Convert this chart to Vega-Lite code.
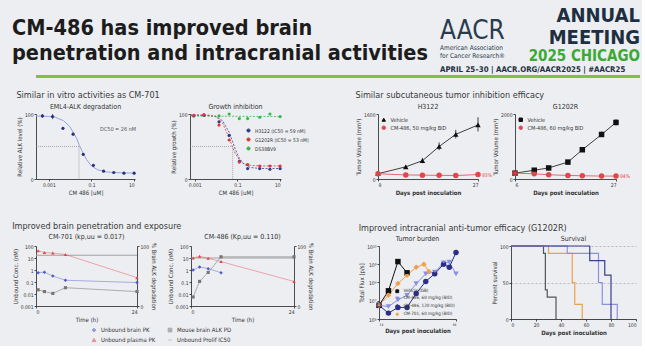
{
 "$schema": "https://vega.github.io/schema/vega-lite/v6.json",
 "background": "#eceef1",
 "padding": {"left": 12, "top": 6, "right": 2, "bottom": 2},
 "config": {
  "font": "Liberation Sans Narrow, DejaVu Sans Condensed, sans-serif",
  "view": {"stroke": null},
  "axis": {"labelFontSize": 5, "titleFontSize": 6, "tickSize": 2, "labelPadding": 1, "titlePadding": 2, "domainColor": "#222", "tickColor": "#222", "labelColor": "#333", "titleColor": "#333", "grid": false, "titleFontWeight": "normal", "domainWidth": 0.8, "tickWidth": 0.8},
  "title": {"fontSize": 7, "fontWeight": "normal", "color": "#333", "offset": 2},
  "legend": {"labelFontSize": 5, "symbolSize": 12, "rowPadding": 0, "padding": 0, "labelColor": "#333", "symbolStrokeWidth": 1, "labelLimit": 200, "titleFontSize": 5}
 },
 "datasets": {
  "a_pts": [
   {"x": 0.0005, "y": 97, "lo": 94, "hi": 100}, {"x": 0.0015, "y": 96, "lo": 92, "hi": 100}, {"x": 0.0046, "y": 78, "lo": 76, "hi": 80}, {"x": 0.0137, "y": 69, "lo": 67, "hi": 71}, {"x": 0.041, "y": 38, "lo": 36, "hi": 40}, {"x": 0.123, "y": 21, "lo": 20, "hi": 22}, {"x": 0.37, "y": 12, "lo": 11, "hi": 13}, {"x": 1.11, "y": 10, "lo": 9, "hi": 11}, {"x": 3.33, "y": 9, "lo": 8, "hi": 10}, {"x": 10, "y": 9, "lo": 8, "hi": 10}
  ],
  "a_fit": [
   {"x": 0.00025, "y": 97}, {"x": 0.001, "y": 96.3}, {"x": 0.002, "y": 95}, {"x": 0.005, "y": 89.5}, {"x": 0.01, "y": 80}, {"x": 0.02, "y": 62.5}, {"x": 0.026, "y": 53}, {"x": 0.04, "y": 40}, {"x": 0.06, "y": 29.5}, {"x": 0.1, "y": 20}, {"x": 0.2, "y": 14}, {"x": 0.5, "y": 11}, {"x": 1, "y": 10}, {"x": 11, "y": 9}
  ],
  "a_ref": [{"x": 0.00025, "y": 50, "o": 1}, {"x": 0.026, "y": 50, "o": 2}, {"x": 0.026, "y": 0, "o": 3}],
  "b_pts": [
   {"g": "H3122 (IC50 = 59 nM)", "x": 0.0009, "y": 97}, {"g": "H3122 (IC50 = 59 nM)", "x": 0.0027, "y": 98}, {"g": "H3122 (IC50 = 59 nM)", "x": 0.0137, "y": 88}, {"g": "H3122 (IC50 = 59 nM)", "x": 0.041, "y": 67}, {"g": "H3122 (IC50 = 59 nM)", "x": 0.123, "y": 27}, {"g": "H3122 (IC50 = 59 nM)", "x": 0.3, "y": 16}, {"g": "H3122 (IC50 = 59 nM)", "x": 1.11, "y": 16}, {"g": "H3122 (IC50 = 59 nM)", "x": 3.33, "y": 15}, {"g": "H3122 (IC50 = 59 nM)", "x": 10, "y": 16},
   {"g": "G1202R (IC50 = 53 nM)", "x": 0.0009, "y": 98}, {"g": "G1202R (IC50 = 53 nM)", "x": 0.0027, "y": 99}, {"g": "G1202R (IC50 = 53 nM)", "x": 0.0137, "y": 83}, {"g": "G1202R (IC50 = 53 nM)", "x": 0.041, "y": 60}, {"g": "G1202R (IC50 = 53 nM)", "x": 0.123, "y": 26}, {"g": "G1202R (IC50 = 53 nM)", "x": 0.3, "y": 22}, {"g": "G1202R (IC50 = 53 nM)", "x": 1.11, "y": 20}, {"g": "G1202R (IC50 = 53 nM)", "x": 3.33, "y": 20}, {"g": "G1202R (IC50 = 53 nM)", "x": 10, "y": 20},
   {"g": "DS38BV9", "x": 0.0137, "y": 97}, {"g": "DS38BV9", "x": 0.041, "y": 100}, {"g": "DS38BV9", "x": 0.123, "y": 93}, {"g": "DS38BV9", "x": 0.3, "y": 93}, {"g": "DS38BV9", "x": 1.11, "y": 95}, {"g": "DS38BV9", "x": 3.33, "y": 100}, {"g": "DS38BV9", "x": 10, "y": 96}
  ],
  "b_fit": [
   {"g": "H3122 (IC50 = 59 nM)", "x": 0.0006, "y": 98}, {"g": "H3122 (IC50 = 59 nM)", "x": 0.005, "y": 97.4}, {"g": "H3122 (IC50 = 59 nM)", "x": 0.01, "y": 95.8}, {"g": "H3122 (IC50 = 59 nM)", "x": 0.02, "y": 89.8}, {"g": "H3122 (IC50 = 59 nM)", "x": 0.041, "y": 71.9}, {"g": "H3122 (IC50 = 59 nM)", "x": 0.06, "y": 57}, {"g": "H3122 (IC50 = 59 nM)", "x": 0.08, "y": 45.5}, {"g": "H3122 (IC50 = 59 nM)", "x": 0.123, "y": 31.8}, {"g": "H3122 (IC50 = 59 nM)", "x": 0.2, "y": 22.8}, {"g": "H3122 (IC50 = 59 nM)", "x": 0.4, "y": 17.8}, {"g": "H3122 (IC50 = 59 nM)", "x": 1, "y": 16.3}, {"g": "H3122 (IC50 = 59 nM)", "x": 11, "y": 16},
   {"g": "G1202R (IC50 = 53 nM)", "x": 0.0006, "y": 99}, {"g": "G1202R (IC50 = 53 nM)", "x": 0.005, "y": 98.3}, {"g": "G1202R (IC50 = 53 nM)", "x": 0.01, "y": 96.3}, {"g": "G1202R (IC50 = 53 nM)", "x": 0.02, "y": 86}, {"g": "G1202R (IC50 = 53 nM)", "x": 0.041, "y": 63}, {"g": "G1202R (IC50 = 53 nM)", "x": 0.06, "y": 48.4}, {"g": "G1202R (IC50 = 53 nM)", "x": 0.08, "y": 39}, {"g": "G1202R (IC50 = 53 nM)", "x": 0.123, "y": 29.3}, {"g": "G1202R (IC50 = 53 nM)", "x": 0.2, "y": 23.8}, {"g": "G1202R (IC50 = 53 nM)", "x": 0.4, "y": 21}, {"g": "G1202R (IC50 = 53 nM)", "x": 1, "y": 20.2}, {"g": "G1202R (IC50 = 53 nM)", "x": 11, "y": 20},
   {"g": "DS38BV9", "x": 0.0006, "y": 97}, {"g": "DS38BV9", "x": 11, "y": 96}
  ],
  "b_ref": [{"x": 0.0006, "y": 50, "o": 1}, {"x": 0.06, "y": 50, "o": 2}, {"x": 0.06, "y": 0, "o": 3}],
  "c_data": [
   {"g": "Vehicle", "d": 9, "v": 130, "lo": 110, "hi": 150}, {"g": "Vehicle", "d": 14, "v": 300, "lo": 255, "hi": 345}, {"g": "Vehicle", "d": 17, "v": 450, "lo": 390, "hi": 520}, {"g": "Vehicle", "d": 20, "v": 800, "lo": 710, "hi": 900}, {"g": "Vehicle", "d": 23, "v": 1100, "lo": 1000, "hi": 1210}, {"g": "Vehicle", "d": 27, "v": 1330, "lo": 1170, "hi": 1520},
   {"g": "CM-486, 50 mg/kg BID", "d": 9, "v": 130, "lo": 120, "hi": 140}, {"g": "CM-486, 50 mg/kg BID", "d": 14, "v": 100, "lo": 90, "hi": 110}, {"g": "CM-486, 50 mg/kg BID", "d": 17, "v": 95, "lo": 85, "hi": 105}, {"g": "CM-486, 50 mg/kg BID", "d": 20, "v": 90, "lo": 80, "hi": 100}, {"g": "CM-486, 50 mg/kg BID", "d": 23, "v": 85, "lo": 75, "hi": 95}, {"g": "CM-486, 50 mg/kg BID", "d": 27, "v": 110, "lo": 95, "hi": 125}
  ],
  "d_data": [
   {"g": "Vehicle", "d": 6, "v": 180, "lo": 160, "hi": 200}, {"g": "Vehicle", "d": 10, "v": 270, "lo": 245, "hi": 295}, {"g": "Vehicle", "d": 13, "v": 340, "lo": 320, "hi": 360}, {"g": "Vehicle", "d": 17, "v": 520, "lo": 500, "hi": 540}, {"g": "Vehicle", "d": 20, "v": 900, "lo": 850, "hi": 960}, {"g": "Vehicle", "d": 24, "v": 1370, "lo": 1300, "hi": 1460}, {"g": "Vehicle", "d": 27, "v": 1740, "lo": 1650, "hi": 1840},
   {"g": "CM-486, 60 mg/kg BID", "d": 6, "v": 180, "lo": 165, "hi": 195}, {"g": "CM-486, 60 mg/kg BID", "d": 10, "v": 160, "lo": 130, "hi": 190}, {"g": "CM-486, 60 mg/kg BID", "d": 13, "v": 130, "lo": 115, "hi": 145}, {"g": "CM-486, 60 mg/kg BID", "d": 17, "v": 110, "lo": 100, "hi": 120}, {"g": "CM-486, 60 mg/kg BID", "d": 20, "v": 100, "lo": 90, "hi": 110}, {"g": "CM-486, 60 mg/kg BID", "d": 24, "v": 90, "lo": 80, "hi": 100}, {"g": "CM-486, 60 mg/kg BID", "d": 27, "v": 90, "lo": 80, "hi": 100}
  ],
  "e_pk": [
   {"s": "Unbound brain PK", "t": 0.5, "v": 0.6}, {"s": "Unbound brain PK", "t": 2, "v": 0.66}, {"s": "Unbound brain PK", "t": 4, "v": 0.31}, {"s": "Unbound brain PK", "t": 7, "v": 0.14}, {"s": "Unbound brain PK", "t": 24, "v": 0.09},
   {"s": "Unbound plasma PK", "t": 0.5, "v": 40}, {"s": "Unbound plasma PK", "t": 2, "v": 29}, {"s": "Unbound plasma PK", "t": 4, "v": 26}, {"s": "Unbound plasma PK", "t": 7, "v": 19.5}, {"s": "Unbound plasma PK", "t": 24, "v": 0.23}
  ],
  "e_ic": [{"s": "Unbound Prolif IC50", "t": 0, "v": 17}, {"s": "Unbound Prolif IC50", "t": 24, "v": 17}],
  "e_pd": [{"s": "Mouse brain ALK PD", "t": 0.5, "p": 27}, {"s": "Mouse brain ALK PD", "t": 2, "p": 24}, {"s": "Mouse brain ALK PD", "t": 4, "p": 21}, {"s": "Mouse brain ALK PD", "t": 7, "p": 30.5}, {"s": "Mouse brain ALK PD", "t": 24, "p": 24}],
  "f_pk": [
   {"s": "Unbound brain PK", "t": 0.5, "v": 1.0}, {"s": "Unbound brain PK", "t": 2, "v": 1.8}, {"s": "Unbound brain PK", "t": 4, "v": 1.3}, {"s": "Unbound brain PK", "t": 7, "v": 0.6},
   {"s": "Unbound plasma PK", "t": 0.5, "v": 10}, {"s": "Unbound plasma PK", "t": 2, "v": 14}, {"s": "Unbound plasma PK", "t": 4, "v": 9.5}, {"s": "Unbound plasma PK", "t": 7, "v": 5}, {"s": "Unbound plasma PK", "t": 24, "v": 0.11}
  ],
  "f_ic": [{"s": "Unbound Prolif IC50", "t": 0, "v": 10}, {"s": "Unbound Prolif IC50", "t": 24, "v": 10}],
  "f_pd": [{"s": "Mouse brain ALK PD", "t": 0.5, "p": 15}, {"s": "Mouse brain ALK PD", "t": 2, "p": 41}, {"s": "Mouse brain ALK PD", "t": 4, "p": 56}, {"s": "Mouse brain ALK PD", "t": 7, "p": 82}, {"s": "Mouse brain ALK PD", "t": 24, "p": 82}],
  "g_data": [
   {"g": "Vehicle (GB)", "d": 14, "f": 5600000}, {"g": "Vehicle (GB)", "d": 22.6, "f": 35000000}, {"g": "Vehicle (GB)", "d": 31.2, "f": 1400000000}, {"g": "Vehicle (GB)", "d": 39.5, "f": 340000000},
   {"g": "CM-486, 60 mg/kg (BID)", "d": 14, "f": 5600000}, {"g": "CM-486, 60 mg/kg (BID)", "d": 22.6, "f": 4800000}, {"g": "CM-486, 60 mg/kg (BID)", "d": 31.2, "f": 11000000}, {"g": "CM-486, 60 mg/kg (BID)", "d": 39.5, "f": 20000000}, {"g": "CM-486, 60 mg/kg (BID)", "d": 47.8, "f": 87000000}, {"g": "CM-486, 60 mg/kg (BID)", "d": 56.5, "f": 300000000}, {"g": "CM-486, 60 mg/kg (BID)", "d": 64.7, "f": 370000000}, {"g": "CM-486, 60 mg/kg (BID)", "d": 72.7, "f": 1200000000}, {"g": "CM-486, 60 mg/kg (BID)", "d": 77.9, "f": 1300000000}, {"g": "CM-486, 60 mg/kg (BID)", "d": 84, "f": 300000000},
   {"g": "CM-486, 120 mg/kg (BID)", "d": 14, "f": 5600000}, {"g": "CM-486, 120 mg/kg (BID)", "d": 22.6, "f": 2100000}, {"g": "CM-486, 120 mg/kg (BID)", "d": 31.2, "f": 4300000}, {"g": "CM-486, 120 mg/kg (BID)", "d": 39.5, "f": 4300000}, {"g": "CM-486, 120 mg/kg (BID)", "d": 47.8, "f": 25000000}, {"g": "CM-486, 120 mg/kg (BID)", "d": 56.5, "f": 115000000}, {"g": "CM-486, 120 mg/kg (BID)", "d": 64.7, "f": 300000000}, {"g": "CM-486, 120 mg/kg (BID)", "d": 72.7, "f": 1000000000}, {"g": "CM-486, 120 mg/kg (BID)", "d": 77.9, "f": 680000000}, {"g": "CM-486, 120 mg/kg (BID)", "d": 84, "f": 4400000000},
   {"g": "CM-701, 60 mg/kg (BID)", "d": 14, "f": 5600000}, {"g": "CM-701, 60 mg/kg (BID)", "d": 22.6, "f": 20000000}, {"g": "CM-701, 60 mg/kg (BID)", "d": 31.2, "f": 87000000}, {"g": "CM-701, 60 mg/kg (BID)", "d": 39.5, "f": 250000000}, {"g": "CM-701, 60 mg/kg (BID)", "d": 47.8, "f": 680000000}, {"g": "CM-701, 60 mg/kg (BID)", "d": 54.8, "f": 1000000000}, {"g": "CM-701, 60 mg/kg (BID)", "d": 59.4, "f": 400000000}
  ],
  "h_data": [
   {"g": "Vehicle", "d": 0, "p": 100}, {"g": "Vehicle", "d": 26, "p": 90}, {"g": "Vehicle", "d": 27.5, "p": 40}, {"g": "Vehicle", "d": 29, "p": 30}, {"g": "Vehicle", "d": 36, "p": 0},
   {"g": "CM-701", "d": 0, "p": 100}, {"g": "CM-701", "d": 30, "p": 90}, {"g": "CM-701", "d": 49, "p": 50}, {"g": "CM-701", "d": 51, "p": 20}, {"g": "CM-701", "d": 57, "p": 0},
   {"g": "CM-486 60", "d": 0, "p": 100}, {"g": "CM-486 60", "d": 45, "p": 90}, {"g": "CM-486 60", "d": 70, "p": 50}, {"g": "CM-486 60", "d": 73, "p": 20}, {"g": "CM-486 60", "d": 85, "p": 0},
   {"g": "CM-486 120", "d": 0, "p": 100}, {"g": "CM-486 120", "d": 63, "p": 80}, {"g": "CM-486 120", "d": 75, "p": 60}, {"g": "CM-486 120", "d": 80, "p": 0}
  ]
 },
 "resolve": {"scale": {"color": "independent", "shape": "independent"}},
 "spacing": 13,
 "vconcat": [
  {
   "spacing": 0,
   "vconcat": [
    {
     "spacing": 0,
     "hconcat": [
      {"width": 404, "height": 1, "data": {"values": [{}]}, "mark": {"type": "point", "size": 0, "opacity": 0},
       "title": {"text": ["CM-486 has improved brain", "penetration and intracranial activities"], "fontSize": 21.5, "fontWeight": "bold", "lineHeight": 25, "anchor": "start", "color": "#1c1c1c", "offset": 1, "dx": -24}},
      {"width": 80, "height": 1, "data": {"values": [{}]}, "mark": {"type": "point", "size": 0, "opacity": 0},
       "title": {"text": "AACR", "fontSize": 26, "color": "#2a3b4d", "anchor": "start", "subtitle": ["American Association", "for Cancer Research®"], "subtitleFontSize": 6.5, "subtitleLineHeight": 8, "subtitleColor": "#2a3b4d", "subtitlePadding": 1, "offset": 6}},
      {"width": 120, "height": 1, "data": {"values": [{}]}, "mark": {"type": "point", "size": 0, "opacity": 0},
       "title": {"text": ["ANNUAL", "MEETING"], "fontSize": 20, "fontWeight": "bold", "lineHeight": 22, "color": "#1d2f40", "anchor": "end", "subtitle": "2025 CHICAGO", "subtitleFontSize": 15, "subtitleFontWeight": "bold", "subtitleColor": "#3aa935", "subtitlePadding": 1, "offset": 1}}
     ]
    },
    {"width": 604, "height": 3, "data": {"values": [{}]}, "mark": {"type": "point", "size": 0, "opacity": 0}, "view": {"fill": "#7cc24a", "stroke": null},
     "title": {"text": "APRIL 25–30  |  AACR.ORG/AACR2025  |  #AACR25", "fontSize": 7.8, "fontWeight": "bold", "color": "#1d2f40", "anchor": "start", "dx": 404, "offset": 1}}
   ]
  },
  {
   "spacing": 46,
   "resolve": {"scale": {"color": "independent", "shape": "independent"}},
   "hconcat": [
    {
     "title": {"text": "Similar in vitro activities as CM-701", "fontSize": 9, "color": "#3a3a3a", "offset": 3},
     "spacing": 33,
     "resolve": {"scale": {"color": "independent", "shape": "independent"}},
     "hconcat": [
      {
       "width": 99, "height": 65,
       "title": "EML4-ALK degradation",
       "layer": [
        {"data": {"name": "a_ref"}, "mark": {"type": "line", "color": "#777", "strokeWidth": 0.6, "strokeDash": [1, 1]},
         "encoding": {
          "x": {"field": "x", "type": "quantitative", "scale": {"type": "log", "domain": [0.00025, 11], "nice": false}, "axis": {"values": [0.001, 0.1, 10], "format": "~g", "title": "CM 486 [uM]"}},
          "y": {"field": "y", "type": "quantitative", "scale": {"domain": [0, 100]}, "axis": {"values": [0, 20, 40, 60, 80, 100], "title": "Relative ALK level (%)"}},
          "order": {"field": "o"}}},
        {"data": {"name": "a_fit"}, "mark": {"type": "line", "color": "#9aa0e6", "strokeWidth": 1},
         "encoding": {"x": {"field": "x", "type": "quantitative"}, "y": {"field": "y", "type": "quantitative"}}},
        {"data": {"name": "a_pts"}, "mark": {"type": "rule", "color": "#28307a", "strokeWidth": 0.7},
         "encoding": {"x": {"field": "x", "type": "quantitative"}, "y": {"field": "lo", "type": "quantitative"}, "y2": {"field": "hi"}}},
        {"data": {"name": "a_pts"}, "mark": {"type": "point", "filled": true, "color": "#28307a", "size": 10, "opacity": 1},
         "encoding": {"x": {"field": "x", "type": "quantitative"}, "y": {"field": "y", "type": "quantitative"}}},
        {"data": {"values": [{"x": 0.25, "y": 77, "t": "DC50 = 26 nM"}]}, "mark": {"type": "text", "align": "left", "fontSize": 5.5, "color": "#555"},
         "encoding": {"x": {"field": "x", "type": "quantitative"}, "y": {"field": "y", "type": "quantitative"}, "text": {"field": "t"}}}
       ]
      },
      {
       "width": 91, "height": 65,
       "title": "Growth inhibition",
       "layer": [
        {"data": {"name": "b_ref"}, "mark": {"type": "line", "color": "#777", "strokeWidth": 0.6, "strokeDash": [1, 1]},
         "encoding": {
          "x": {"field": "x", "type": "quantitative", "scale": {"type": "log", "domain": [0.0006, 11], "nice": false}, "axis": {"values": [0.001, 0.1, 10], "format": "~g", "title": "CM 486 [uM]"}},
          "y": {"field": "y", "type": "quantitative", "scale": {"domain": [0, 100]}, "axis": {"values": [0, 20, 40, 60, 80, 100], "title": "Relative growth (%)"}},
          "order": {"field": "o"}}},
        {"data": {"name": "b_fit"}, "mark": {"type": "line", "strokeWidth": 0.8, "strokeDash": [2, 1.5]},
         "encoding": {"x": {"field": "x", "type": "quantitative"}, "y": {"field": "y", "type": "quantitative"},
          "color": {"field": "g", "type": "nominal", "scale": {"domain": ["H3122 (IC50 = 59 nM)", "G1202R (IC50 = 53 nM)", "DS38BV9"], "range": ["#2e3a8c", "#d9363e", "#3cb44b"]}, "legend": {"orient": "none", "legendX": 56, "legendY": 14, "title": null, "labelFontSize": 5, "symbolSize": 10, "symbolType": "circle"}}}},
        {"data": {"name": "b_pts"}, "mark": {"type": "point", "filled": true, "size": 10, "opacity": 1},
         "encoding": {"x": {"field": "x", "type": "quantitative"}, "y": {"field": "y", "type": "quantitative"},
          "color": {"field": "g", "type": "nominal"}}}
       ]
      }
     ]
    },
    {
     "title": {"text": "Similar subcutaneous tumor inhibition efficacy", "fontSize": 9, "color": "#3a3a3a", "offset": 3},
     "spacing": 0,
     "resolve": {"scale": {"color": "independent", "shape": "independent"}},
     "hconcat": [
      {
       "width": 100, "height": 65,
       "title": "H3122",
       "layer": [
        {"data": {"name": "c_data"}, "mark": {"type": "line", "strokeWidth": 0.8},
         "encoding": {
          "x": {"field": "d", "type": "quantitative", "scale": {"domain": [9, 27], "nice": false}, "axis": {"values": [9, 12, 15, 18, 21, 24, 27], "title": "Days post inoculation", "titleFontWeight": "bold"}},
          "y": {"field": "v", "type": "quantitative", "scale": {"domain": [0, 1600]}, "axis": {"values": [0, 200, 400, 600, 800, 1000, 1200, 1400, 1600], "format": "d", "title": "Tumor Volume (mm³)"}},
          "color": {"field": "g", "type": "nominal", "scale": {"domain": ["Vehicle", "CM-486, 50 mg/kg BID"], "range": ["#111111", "#e0474c"]}, "legend": {"orient": "top-left", "title": null, "labelFontSize": 5.5, "offset": 3}},
          "shape": {"field": "g", "type": "nominal", "scale": {"domain": ["Vehicle", "CM-486, 50 mg/kg BID"], "range": ["triangle-up", "circle"]}, "legend": {"orient": "top-left", "title": null, "labelFontSize": 5.5, "offset": 3}}}},
        {"data": {"name": "c_data"}, "mark": {"type": "rule", "strokeWidth": 0.8},
         "encoding": {"x": {"field": "d", "type": "quantitative"}, "y": {"field": "lo", "type": "quantitative"}, "y2": {"field": "hi"}, "color": {"field": "g", "type": "nominal"}}},
        {"data": {"name": "c_data"}, "mark": {"type": "point", "filled": true, "size": 9, "opacity": 1},
         "encoding": {"x": {"field": "d", "type": "quantitative"}, "y": {"field": "v", "type": "quantitative"}, "color": {"field": "g", "type": "nominal"}, "shape": {"field": "g", "type": "nominal"}}},
        {"data": {"values": [{"d": 27, "v": 110, "t": "93%"}]}, "mark": {"type": "text", "align": "left", "dx": 4, "fontSize": 5, "color": "#e0474c"},
         "encoding": {"x": {"field": "d", "type": "quantitative"}, "y": {"field": "v", "type": "quantitative"}, "text": {"field": "t"}}}
       ]
      },
      {
       "width": 101, "height": 65,
       "title": "G1202R",
       "layer": [
        {"data": {"name": "d_data"}, "mark": {"type": "line", "strokeWidth": 0.8},
         "encoding": {
          "x": {"field": "d", "type": "quantitative", "scale": {"domain": [6, 27], "nice": false}, "axis": {"values": [6, 9, 12, 15, 18, 21, 24, 27], "title": "Days post inoculation", "titleFontWeight": "bold"}},
          "y": {"field": "v", "type": "quantitative", "scale": {"domain": [0, 2000]}, "axis": {"values": [0, 400, 800, 1200, 1600, 2000], "format": "d", "title": "Tumor Volume (mm³)"}},
          "color": {"field": "g", "type": "nominal", "scale": {"domain": ["Vehicle", "CM-486, 60 mg/kg BID"], "range": ["#111111", "#e0474c"]}, "legend": {"orient": "top-left", "title": null, "labelFontSize": 5.5, "offset": 3}},
          "shape": {"field": "g", "type": "nominal", "scale": {"domain": ["Vehicle", "CM-486, 60 mg/kg BID"], "range": ["square", "circle"]}, "legend": {"orient": "top-left", "title": null, "labelFontSize": 5.5, "offset": 3}}}},
        {"data": {"name": "d_data"}, "mark": {"type": "rule", "strokeWidth": 0.8},
         "encoding": {"x": {"field": "d", "type": "quantitative"}, "y": {"field": "lo", "type": "quantitative"}, "y2": {"field": "hi"}, "color": {"field": "g", "type": "nominal"}}},
        {"data": {"name": "d_data"}, "mark": {"type": "point", "filled": true, "size": 9, "opacity": 1},
         "encoding": {"x": {"field": "d", "type": "quantitative"}, "y": {"field": "v", "type": "quantitative"}, "color": {"field": "g", "type": "nominal"}, "shape": {"field": "g", "type": "nominal"}}},
        {"data": {"values": [{"d": 27, "v": 95, "t": "94%"}]}, "mark": {"type": "text", "align": "left", "dx": 4, "fontSize": 5, "color": "#e0474c"},
         "encoding": {"x": {"field": "d", "type": "quantitative"}, "y": {"field": "v", "type": "quantitative"}, "text": {"field": "t"}}}
       ]
      }
     ]
    }
   ]
  },
  {"width": 1, "height": 1, "data": {"values": [{}]}, "mark": {"type": "point", "size": 0, "opacity": 0}},
  {
   "spacing": 44,
   "resolve": {"scale": {"color": "independent", "shape": "independent"}},
   "hconcat": [
    {
     "title": {"text": "Improved brain penetration and exposure", "fontSize": 9, "color": "#3a3a3a", "offset": 2},
     "spacing": 10,
     "hconcat": [
      {
       "width": 101, "height": 60,
       "title": "CM-701 (kp,uu = 0.017)",
       "resolve": {"scale": {"y": "independent"}},
       "layer": [
        {"layer": [
          {"data": {"name": "e_ic"}, "mark": {"type": "line", "strokeWidth": 1.2},
           "encoding": {
            "x": {"field": "t", "type": "quantitative", "scale": {"domain": [0, 24], "nice": false}, "axis": {"values": [0, 2, 4, 6, 8, 10, 12, 14, 16, 18, 20, 22, 24], "title": "Time (h)"}},
            "y": {"field": "v", "type": "quantitative", "scale": {"type": "log", "domain": [0.001, 100]}, "axis": {"values": [0.001, 0.01, 0.1, 1, 10, 100], "format": "~g", "title": "Unbound Conc. (nM)"}},
            "color": {"field": "s", "type": "nominal", "scale": {"domain": ["Unbound brain PK", "Unbound plasma PK", "Mouse brain ALK PD", "Unbound Prolif IC50"], "range": ["#4f58c9", "#e0474c", "#777777", "#a0a0a0"]}, "legend": {"orient": "none", "legendX": 55, "legendY": 81, "columns": 2, "title": null, "columnPadding": 10, "labelFontSize": 6, "symbolSize": 14, "rowPadding": 2, "labelLimit": 70}}}},
          {"data": {"name": "e_pk"}, "mark": {"type": "line", "strokeWidth": 0.8, "opacity": 0.55},
           "encoding": {"x": {"field": "t", "type": "quantitative"}, "y": {"field": "v", "type": "quantitative"}, "color": {"field": "s", "type": "nominal"}}},
          {"data": {"name": "e_pk"}, "mark": {"type": "point", "filled": true, "size": 12, "opacity": 1},
           "encoding": {"x": {"field": "t", "type": "quantitative"}, "y": {"field": "v", "type": "quantitative"}, "color": {"field": "s", "type": "nominal"},
            "shape": {"field": "s", "type": "nominal", "scale": {"domain": ["Unbound brain PK", "Unbound plasma PK", "Mouse brain ALK PD", "Unbound Prolif IC50"], "range": ["diamond", "triangle-up", "square", "stroke"]}, "legend": {"orient": "none", "legendX": 55, "legendY": 81, "columns": 2, "title": null, "columnPadding": 10, "labelFontSize": 6, "symbolSize": 14, "rowPadding": 2, "labelLimit": 70}}}}
        ]},
        {"layer": [
          {"data": {"name": "e_pd"}, "mark": {"type": "line", "strokeWidth": 0.8, "opacity": 0.7},
           "encoding": {"x": {"field": "t", "type": "quantitative"},
            "y": {"field": "p", "type": "quantitative", "scale": {"domain": [0, 100]}, "axis": {"orient": "right", "values": [0, 20, 40, 60, 80, 100], "title": "% Brain ALK degradation"}},
            "color": {"field": "s", "type": "nominal"}}},
          {"data": {"name": "e_pd"}, "mark": {"type": "point", "filled": true, "size": 10, "opacity": 1},
           "encoding": {"x": {"field": "t", "type": "quantitative"}, "y": {"field": "p", "type": "quantitative"}, "color": {"field": "s", "type": "nominal"}, "shape": {"field": "s", "type": "nominal"}}}
        ]}
       ]
      },
      {
       "width": 103, "height": 60,
       "title": "CM-486 (Kp,uu = 0.110)",
       "resolve": {"scale": {"y": "independent"}},
       "layer": [
        {"layer": [
          {"data": {"name": "f_ic"}, "mark": {"type": "line", "strokeWidth": 1.2},
           "encoding": {
            "x": {"field": "t", "type": "quantitative", "scale": {"domain": [0, 24], "nice": false}, "axis": {"values": [0, 2, 4, 6, 8, 10, 12, 14, 16, 18, 20, 22, 24], "title": "Time (h)"}},
            "y": {"field": "v", "type": "quantitative", "scale": {"type": "log", "domain": [0.001, 100]}, "axis": {"values": [0.001, 0.01, 0.1, 1, 10, 100], "format": "~g", "title": "Unbound Conc. (nM)"}},
            "color": {"field": "s", "type": "nominal"}}},
          {"data": {"name": "f_pk"}, "mark": {"type": "line", "strokeWidth": 0.8, "opacity": 0.55},
           "encoding": {"x": {"field": "t", "type": "quantitative"}, "y": {"field": "v", "type": "quantitative"}, "color": {"field": "s", "type": "nominal"}}},
          {"data": {"name": "f_pk"}, "mark": {"type": "point", "filled": true, "size": 12, "opacity": 1},
           "encoding": {"x": {"field": "t", "type": "quantitative"}, "y": {"field": "v", "type": "quantitative"}, "color": {"field": "s", "type": "nominal"}, "shape": {"field": "s", "type": "nominal"}}}
        ]},
        {"layer": [
          {"data": {"name": "f_pd"}, "mark": {"type": "line", "strokeWidth": 0.8, "opacity": 0.7},
           "encoding": {"x": {"field": "t", "type": "quantitative"},
            "y": {"field": "p", "type": "quantitative", "scale": {"domain": [0, 100]}, "axis": {"orient": "right", "values": [0, 20, 40, 60, 80, 100], "title": "% Brain ALK degradation"}},
            "color": {"field": "s", "type": "nominal"}}},
          {"data": {"name": "f_pd"}, "mark": {"type": "point", "filled": true, "size": 10, "opacity": 1},
           "encoding": {"x": {"field": "t", "type": "quantitative"}, "y": {"field": "p", "type": "quantitative"}, "color": {"field": "s", "type": "nominal"}, "shape": {"field": "s", "type": "nominal"}}}
        ]}
       ]
      }
     ]
    },
    {
     "title": {"text": "Improved intracranial anti-tumor efficacy (G1202R)", "fontSize": 9, "color": "#3a3a3a", "offset": 2},
     "spacing": 32,
     "resolve": {"scale": {"color": "independent", "shape": "independent"}},
     "hconcat": [
      {
       "width": 77, "height": 73,
       "title": "Tumor burden",
       "data": {"name": "g_data"},
       "layer": [
        {"mark": {"type": "line", "strokeWidth": 1},
         "encoding": {
          "x": {"field": "d", "type": "quantitative", "scale": {"domain": [14, 84], "nice": false}, "axis": {"values": [14, 17, 21, 24, 28, 31, 35, 38, 42, 45, 49, 52, 56, 59, 63, 66, 70, 73, 77, 80, 84], "labelFontSize": 3.3, "labelOverlap": false, "title": "Days post inoculation", "titleFontWeight": "bold"}},
          "y": {"field": "f", "type": "quantitative", "scale": {"type": "log", "domain": [1000000, 10000000000]}, "axis": {"values": [1000000, 10000000, 100000000, 1000000000, 10000000000], "labelExpr": "datum.value == 1e6 ? '10⁶' : datum.value == 1e7 ? '10⁷' : datum.value == 1e8 ? '10⁸' : datum.value == 1e9 ? '10⁹' : '10¹⁰'", "title": "Total Flux [p/s]"}},
          "color": {"field": "g", "type": "nominal", "scale": {"domain": ["Vehicle (GB)", "CM-486, 60 mg/kg (BID)", "CM-486, 120 mg/kg (BID)", "CM-701, 60 mg/kg (BID)"], "range": ["#111111", "#8b8fe0", "#2b2f8a", "#f0a04b"]}, "legend": {"orient": "bottom-right", "title": null, "labelFontSize": 4.5, "symbolSize": 8, "offset": 1}},
          "shape": {"field": "g", "type": "nominal", "scale": {"domain": ["Vehicle (GB)", "CM-486, 60 mg/kg (BID)", "CM-486, 120 mg/kg (BID)", "CM-701, 60 mg/kg (BID)"], "range": ["square", "triangle-down", "circle", "diamond"]}, "legend": {"orient": "bottom-right", "title": null, "labelFontSize": 4.5, "symbolSize": 8, "offset": 1}}}},
        {"mark": {"type": "point", "filled": true, "size": 9, "opacity": 1},
         "encoding": {"x": {"field": "d", "type": "quantitative"}, "y": {"field": "f", "type": "quantitative"}, "color": {"field": "g", "type": "nominal"}, "shape": {"field": "g", "type": "nominal"}}}
       ]
      },
      {
       "width": 125, "height": 73,
       "title": "Survival",
       "data": {"name": "h_data"},
       "mark": {"type": "line", "interpolate": "step-after", "strokeWidth": 1.2},
       "encoding": {
        "x": {"field": "d", "type": "quantitative", "scale": {"domain": [0, 100]}, "axis": {"values": [0, 20, 40, 60, 80, 100], "title": "Days post inoculation", "titleFontWeight": "bold"}},
        "y": {"field": "p", "type": "quantitative", "scale": {"domain": [0, 100]}, "axis": {"values": [0, 50, 100], "title": "Percent survival", "grid": true, "gridDash": [2, 2], "gridColor": "#999", "gridWidth": 0.6}},
        "color": {"field": "g", "type": "nominal", "scale": {"domain": ["Vehicle", "CM-701", "CM-486 60", "CM-486 120"], "range": ["#555555", "#f0a04b", "#8b8fe0", "#3a3f8f"]}, "legend": null}
       }
      }
     ]
    }
   ]
  }
 ]
}
